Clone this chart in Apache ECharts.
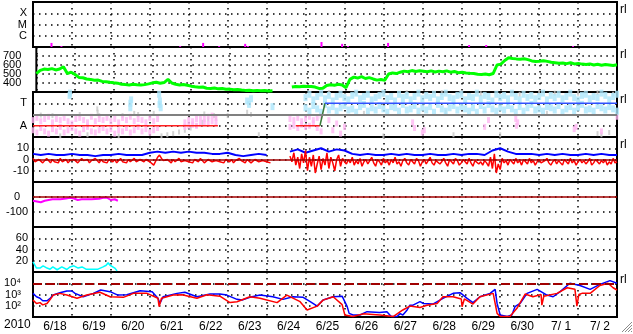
<!DOCTYPE html>
<html><head><meta charset="utf-8">
<script src="https://cdn.jsdelivr.net/npm/echarts@6/dist/echarts.min.js"></script>
<style>html,body{margin:0;padding:0;background:#fff;overflow:hidden}#c{width:633px;height:334px}</style>
</head><body><div id="c"></div>
<script>
// ---------------- data ----------------
const dayLabels = ['6/18','6/19','6/20','6/21','6/22','6/23','6/24','6/25','6/26','6/27','6/28','6/29','6/30','7/ 1','7/ 2'];
const yearLabel = '2010';
const xrayLabels = {1:'C', 2:'M', 3:'X'};
const speedLabels = {400:'400', 500:'500', 600:'600', 700:'700'};
const swTypeLabels = {1:'A', 3:'T'};
const imfLabels = {10:'10', 0:'0', '-10':'-10'};
const dstLabels = {0:'0', '-100':'-100'};
const kpLabels = {20:'20', 40:'40', 60:'60'};
const elecLabels = {2:'10\u00B2', 3:'10\u00B3', 4:'10\u2074'};
const sideMark = 'rl';

// X-ray flare events (day since 6/18 00UT, peak flux W/m2)
const flareTimes = [0.475,0.73,3.78,4.37,4.78,5.45,5.52,7.41,7.94,8.09,9.12,11.2,11.64,13.87];
const flareFlux  = [2.3e-7,1.2e-7,1.2e-7,2.3e-7,1.2e-7,1.9e-7,1.2e-7,2.8e-7,1.9e-7,1.2e-7,2.3e-7,1.5e-7,1.5e-7,1.2e-7];

// Solar wind speed, sampled every 0.1 day
const speedStart1 = 0.0;
const speed1 = [505,540,555,550,560,545,555,580,505,520,495,462,458,445,440,430,432,418,415,408,
  402,398,385,382,378,385,380,378,382,390,402,408,398,405,440,400,385,378,383,375,
  365,358,352,355,342,338,345,335,338,330,332,325,328,322,318,320,315,318,314,316,312,314];
const speedStart2 = 6.6;
const speed2 = [355,362,358,365,360,362,355,340,342,372,380,375,385,378,348,440,465,455,470,450,
  460,445,432,438,430,500,512,505,520,532,525,538,528,535,530,525,535,522,532,525,
  535,520,528,515,520,512,508,505,498,495,500,492,505,600,610,650,680,672,668,665,
  670,660,645,640,642,648,640,630,625,620,622,615,625,612,618,610,605,612,600,608,
  598,605,600,595,602];

// Solar wind type panel (T / A)
const tBandStart = 7.0;
const tBandHi = [3.5,3.8,3.3,3.6,3.9,3.4,3.7,3.2,3.6,3.8,3.5,3.3,3.7,3.9,3.4,3.6,3.8,3.3,3.5,3.7,
  3.9,3.4,3.6,3.2,3.8,3.5,3.7,3.3,3.6,3.9,3.4,3.7,3.5,3.8,3.3,3.6,3.9,3.5,3.4,3.7,
  3.8,3.3,3.6,3.5,3.9,3.4,3.7,3.6,3.2,3.8,3.5,3.7,3.4,3.9,3.6,3.3,3.8,3.5,3.7,3.4,
  3.6,3.9,3.3,3.7,3.5,3.8,3.4,3.6,3.9,3.5,3.3,3.7,3.8,3.4,3.6,3.5,3.9,3.7,3.3,3.6,3.8];
const tBandLo = [2.6,2.3,2.8,2.5,2.2,2.9,2.4,2.7,2.3,2.6,2.8,2.4,2.5,2.2,2.7,2.9,2.3,2.6,2.4,2.8,
  2.5,2.2,2.7,2.6,2.3,2.9,2.4,2.5,2.8,2.3,2.6,2.4,2.7,2.2,2.9,2.5,2.3,2.6,2.8,2.4,
  2.7,2.5,2.3,2.6,2.2,2.8,2.4,2.9,2.5,2.3,2.6,2.4,2.8,2.5,2.2,2.7,2.3,2.6,2.9,2.4,
  2.5,2.3,2.7,2.6,2.4,2.8,2.2,2.5,2.7,2.3,2.6,2.9,2.4,2.5,2.3,2.8,2.6,2.4,2.7,2.5,2.3];
const tEarly = [[0.94,3.7],[0.95,3.9],[2.5,3.0],[2.5,2.6],[2.52,3.3],[3.24,3.8],[3.26,3.2],[3.28,2.6],[3.25,2.9],[5.5,3.2],[5.55,2.9],[5.6,3.4],[6.15,2.7]];
const aStart1 = 0.0;
const aHi1 = [1.5,1.7,1.4,1.6,1.8,1.3,1.6,1.5,1.7,1.4,1.2,1.6,1.7,1.5,1.3,1.8,1.4,1.6,1.5,1.7,1.4,1.6,1.3,1.7,1.5,1.8,1.4,1.6,1.5,1.3,1.7,1.4,1.6];
const aLo1 = [0.6,0.4,0.8,0.5,0.3,0.7,0.5,0.9,0.4,0.6,0.8,0.5,0.3,0.7,0.9,0.5,0.4,0.6,0.8,0.5,0.7,0.3,0.6,0.5,0.8,0.4,0.6,0.9,0.5,0.7,0.4,0.6,0.8];
const aStart2 = 3.9;
const aHi2 = [1.3,1.5,1.4,1.6,1.7,1.6,1.8,1.9,1.7];
const aLo2 = [0.9,1.0,1.1,1.0,1.2,1.3,1.2,1.4,1.3];
const aStart3 = 6.6;
const aHi3 = [1.6,1.5,1.7,1.4,1.6,1.8,1.5,1.7,1.9];
const aLo3 = [0.9,1.0,0.8,1.1,0.9,1.0,1.2,0.8,0.5];
const aSparse = [[7.6,1.5],[7.7,0.6],[7.8,1.2],[7.9,0.3],[8.0,0.9],[9.75,1.3],[9.8,0.8],[10.0,0.4],[10.05,0.6],[11.6,0.9],[11.7,1.5],[12.4,1.6],[12.42,1.0],[12.45,1.3],[13.9,0.7],[13.95,0.9],[14.6,0.5],[15,1.8]];
const grayPts = [[3.3,0.1],[3.45,0.2],[3.6,0.3],[3.75,0.45],[3.9,0.6],[4.05,0.8],[4.2,1.0],[4.35,1.3],[4.5,1.6],[4.65,1.9],[4.7,1.7],
  [1.65,2.5],[1.66,2.2],[1.7,1.9],[5.5,2.2],[5.6,2.0],[5.0,1.9],[0.5,1.9],[2.6,2.1],[2.7,2.0],[0.2,1.95],[1.2,2.0],[2.3,1.9],[3.1,2.1],[4.4,2.05],
  [0.7,0.1],[1.4,0.2],[2.2,0.1],[5.8,0.2],
  [7.6,3.95],[8.3,3.9],[9.0,3.8],[9.6,3.95],[10.5,3.95],[11.0,3.9],[11.5,3.85],[12.5,3.8],[13.0,3.95],[13.4,3.9],[14.0,3.9],[14.5,3.95],[14.9,3.8],
  [14.5,0.3],[14.6,0.2],[14.8,0.4],[12.0,0.2],[9.0,0.1],[10.8,0.2],[8.5,2.1],[10.6,2.2],[13.2,2.1]];
const typeA1 = [[0,1],[4.75,1]];
const typeA2 = [[6.75,1],[7.37,1]];
const typeShift = [[7.37,1],[7.5,3]];
const typeT = [[7.5,3],[15,3]];
const typeBoundary = 2;

// IMF Bt (every 0.2 day) and Bz (every 0.05 day), nT
const btStart1 = 0.0;
const bt1 = [5,4,5,4,4,5,4,4,3,4,4,5,4,4,4,6,7,6,7,6,7,6,6,5,5,6,4,3,4,5,4];
const btStart2 = 6.6;
const bt2 = [7,9,6,8,10,7,9,8, 5,4,5,4,4,5,4,5,4,4,5,4,4,5,4,5,5,4,8, 10,7,5,5, 5,4,5,4,5,4,4,5,4,5,4,4];
const bzStart1 = 0.0;
const bz1 = [1,-2,-3,0,-1,-3,-2,1,-1,-3, 0,-2,-1,-3,1,-2,-1,0,-3,-1, -2,0,-1,-3,-2,1,-1,-2,0,-3,
  -1,-2,1,-1,-3,0,-2,-1,-3,0, -1,-2,0,-3,-1,1,-2,-1,-3,0, -2,-1,1,-2,-3,0,-1,-2,0,-1,
  -2,-3,-5,-4,2,4,1,-1,-2,0, -1,-3,0,-2,-1,1,-2,-3,-1,0, -2,-1,-3,0,-1,-2,1,-1,-3,-2,
  0,-1,-2,-3,-1,0,-2,-1,-3,0, -1,-2,0,-3,-1,-2,1,-1,-2,-3, 0,-1,-3,-2,0,-1,-2,-3,-1,0, -2,-1,-3];
const bzStart2 = 6.6;
const bz2 = [3,-2,6,-5,2,-8,5,-3,8,-10, 2,-6,4,-12,-4,3,-9,1,-5,6, -8,2,-3,-10,0,4,-6,1,-2,-4,
  0,-3,2,-5,-1,-4,1,-6,-2,0, -4,-1,2,-3,-6,0,-2,-5,1,-3, -1,-5,0,-3,2,-4,-2,-6,-1,1,
  -3,-5,0,-2,-4,1,-1,-6,-2,0, -4,-1,2,-3,-5,-1,0,-4,-2,1, -3,-6,0,-2,-4,1,-1,-5,-3,0,
  -2,-4,1,-3,-6,-1,0,-4,-2,-5, -1,-3,-6,2,-8,5,-12,-4,-9,1, -3,-1,-5,0,-2,-4,1,-3,-1,-5,
  0,-2,-4,1,-3,-1,-5,-2,0,-3, -4,-1,1,-3,-5,-2,0,-4,-1,-3, -5,0,-2,-4,1,-3,-1,-5,-2,0,
  -3,-1,-4,-2,1,-5,-3,0,-2,-4, -1,-3,0,-5,-2,-4,1,-3,-2];

// Dst (nT)
const dst = [[0,-25],[0.1,-30],[0.2,-35],[0.3,-25],[0.4,-20],[0.5,-15],[0.7,-15],[0.85,-10],[0.95,-5],[1.05,-10],[1.15,-20],[1.25,-15],[1.5,-15],[1.7,-12],[1.8,-5],[1.9,-5],[2.0,-20],[2.1,-15],[2.18,-25]];

// sixth panel (cyan)
const kp = [[0,18],[0.09,7],[0.18,7],[0.26,11],[0.31,14],[0.36,7],[0.44,5],[0.51,9],[0.62,4],[0.74,9],[0.87,4.5],[0.95,9],[1.05,11],[1.16,7],[1.26,9],[1.36,5],[1.5,5],[1.67,5],[1.8,9],[1.88,12],[1.93,16.5],[1.98,12],[2.03,14],[2.1,7],[2.16,2]];

// electron flux (two channels)
const elecBlue = [[0,1260],[0.09,630],[0.18,460],[0.25,280],[0.36,280],[0.44,460],[0.52,890],[0.69,1450],[0.87,2040],[1.0,2040],[1.08,1260],[1.29,630],[1.55,1260],[1.74,2510],[1.98,1780],[2.18,890],[2.41,950],[2.75,2190],[3.06,1780],[3.21,460],[3.26,160],[3.34,630],[3.7,1260],[3.9,1580],[4.21,630],[4.55,1120],[4.8,1100],[4.98,890],[5.24,370],[5.37,320],[5.57,560],[5.83,890],[6.16,630],[6.42,370],[6.68,630],[6.94,560],[7.12,230],[7.3,93],[7.45,320],[7.71,630],[7.94,710],[8.07,83],[8.12,21],[8.22,15],[8.4,15],[8.58,30],[8.9,25],[9.09,30],[9.2,11],[9.35,11],[9.43,20],[9.5,15],[9.61,42],[9.68,112],[9.76,112],[9.94,230],[10.02,160],[10.27,141],[10.53,460],[10.79,1260],[10.97,1450],[11.15,460],[11.3,190],[11.48,630],[11.74,1260],[11.87,2880],[11.92,160],[12.0,15],[12.18,11],[12.3,15],[12.38,83],[12.51,160],[12.69,1260],[12.95,2880],[13.2,890],[13.36,630],[13.54,1780],[13.79,10000],[14.05,6310],[14.31,2880],[14.56,7940],[14.82,17000],[15,10000]];
const elecRed = [[0,316],[0.09,158],[0.18,190],[0.25,120],[0.3,158],[0.36,158],[0.44,355],[0.52,890],[0.69,1260],[0.87,890],[1.13,460],[1.38,890],[1.72,1580],[1.98,630],[2.32,560],[2.58,1260],[2.93,1260],[3.21,460],[3.24,83],[3.3,460],[3.6,890],[3.83,955],[4.21,460],[4.47,955],[4.8,710],[5.06,190],[5.24,229],[5.57,630],[5.83,460],[6.27,190],[6.52,890],[6.86,229],[7.04,42],[7.3,93],[7.45,316],[7.71,630],[7.94,126],[8.01,15],[8.22,11],[8.48,19],[8.91,15],[9.25,11],[9.5,42],[9.68,93],[9.94,71],[10.12,112],[10.38,160],[10.53,631],[10.79,631],[11.0,400],[11.02,83],[11.08,400],[11.3,140],[11.48,630],[11.82,1260],[11.92,21],[12.0,11],[12.25,11],[12.43,59],[12.64,1100],[12.84,630],[13.05,1000],[13.07,112],[13.12,700],[13.46,1260],[13.72,3980],[13.92,2880],[13.97,93],[14.02,1000],[14.1,1260],[14.31,1260],[14.56,6310],[14.77,10000],[14.9,3980],[15,2510]];
const elecThreshold = 10000;

// ---------------- chart ----------------
const seg = (t0, dt, vals) => vals.map((v, i) => [Math.round((t0 + i * dt) * 1000) / 1000, v]);
const FONT = 'Liberation Sans';
const tops = [2, 47, 92, 137, 182, 227, 272];
const dotted = {show: true, lineStyle: {color: '#000', width: 1.5, type: [1.5, 4.5]}};
const grids = tops.map(t => ({left: 33, top: t, width: 584, height: 45, show: true, borderColor: '#000', borderWidth: 2, backgroundColor: 'rgba(0,0,0,0)'}));
const xAxes = tops.map((t, i) => ({type: 'value', gridIndex: i, min: 0, max: 15, interval: 1,
  axisLine: {show: false}, axisTick: {show: false}, axisLabel: {show: false}, splitLine: dotted}));
xAxes.push({type: 'category', gridIndex: 6, data: dayLabels, boundaryGap: true, position: 'bottom',
  axisLine: {show: false}, axisTick: {show: false}, splitLine: {show: false},
  axisLabel: {fontFamily: FONT, fontSize: 12, color: '#000', margin: 4, padding: [0, 0, 0, 5], interval: 0}});
const lab = (map, margin, align) => ({fontFamily: FONT, fontSize: 11, color: '#000', margin: margin, align: align || 'right',
  formatter: v => { const k = Math.round(v); return map[k] !== undefined ? map[k] : ''; }});
const yBase = (i, o) => Object.assign({gridIndex: i, type: 'value', axisLine: {show: false}, axisTick: {show: false}, splitLine: dotted}, o);
const yAxes = [
  yBase(0, {min: 0, max: 4, interval: 1, axisLabel: lab(xrayLabels, 6)}),
  yBase(1, {min: 300, max: 800, interval: 100, axisLabel: lab(speedLabels, 15)}),
  yBase(2, {min: 0, max: 4, interval: 1, axisLabel: lab(swTypeLabels, 6)}),
  yBase(3, {min: -20, max: 20, interval: 10, axisLabel: lab(imfLabels, 4)}),
  yBase(4, {min: -200, max: 100, interval: 100, axisLabel: lab(dstLabels, 16, 'center')}),
  yBase(5, {min: 0, max: 80, interval: 20, axisLabel: lab(kpLabels, 5)}),
  yBase(6, {type: 'log', logBase: 10, min: 10, max: 100000,
    axisLabel: {fontFamily: FONT, fontSize: 11, color: '#000', margin: 12, align: 'right',
      formatter: v => { const k = Math.round(Math.log10(v)); return elecLabels[k] || ''; }}})
];
const line = (gi, data, color, width, extra) => Object.assign({type: 'line', xAxisIndex: gi, yAxisIndex: gi, data: data,
  showSymbol: false, symbol: 'none', silent: true, animation: false, lineStyle: {color: color, width: width}, itemStyle: {color: color}}, extra || {});
const scatter = (gi, data, color, size) => ({type: 'scatter', xAxisIndex: gi, yAxisIndex: gi, data: data, symbol: 'rect', clip: true,
  symbolSize: size, silent: true, animation: false, itemStyle: {color: color}});
const hline = (gi, v, color, width, type) => ({type: 'line', xAxisIndex: gi, yAxisIndex: gi, data: [], silent: true,
  markLine: {silent: true, symbol: 'none', animation: false, label: {show: false}, lineStyle: {color: color, width: width, type: type || 'solid'}, data: [{yAxis: v}]}});

const series = [
  {type: 'bar', xAxisIndex: 0, yAxisIndex: 0, barWidth: 2, silent: true, animation: false, itemStyle: {color: '#ff00ff'},
    data: flareTimes.map((t, i) => [t, Math.log10(flareFlux[i]) + 7])},
  line(1, seg(speedStart1, 0.1, speed1), '#00ff00', 3),
  line(1, seg(speedStart2, 0.1, speed2), '#00ff00', 3),
  scatter(2, grayPts, '#c8c8c8', [2, 5]),
  scatter(2, seg(aStart1, 0.1, aHi1).concat(seg(aStart1, 0.1, aLo1), seg(aStart2, 0.1, aHi2), seg(aStart2, 0.1, aLo2),
    seg(aStart3, 0.1, aHi3), seg(aStart3, 0.1, aLo3), aSparse), '#ffb6f2', [3, 6]),
  scatter(2, seg(tBandStart, 0.1, tBandHi).concat(seg(tBandStart, 0.1, tBandLo), tEarly), '#ade6fb', [4, 7]),
  hline(2, typeBoundary, '#808080', 2),
  line(2, typeA1, '#ff2020', 1.5),
  line(2, typeA2, '#ff2020', 1.5),
  line(2, typeShift, '#3a7a3a', 1.5),
  line(2, typeT, '#3050ff', 1.5),
  line(3, seg(btStart1, 0.2, bt1), '#0000ff', 2),
  line(3, seg(btStart2, 0.2, bt2), '#0000ff', 2),
  line(3, seg(bzStart1, 0.05, bz1), '#ff0000', 1.5),
  line(3, seg(bzStart2, 0.05, bz2), '#ff0000', 1.5),
  hline(3, 0, '#a00000', 1.5),
  hline(4, 0, '#a00000', 1.5),
  line(4, dst, '#ff00ff', 2),
  line(5, kp, '#00ffff', 1.5),
  hline(6, elecThreshold, '#a00000', 2, [9, 4]),
  line(6, elecBlue, '#0000ff', 1.5),
  line(6, elecRed, '#ff0000', 1.5)
];

const markTops = [4, 49, 94, 139, 274];
const graphic = [{type: 'text', left: 4, top: 319, style: {text: yearLabel, font: '12px "Liberation Sans"', fill: '#000'}}]
  .concat(markTops.map(t => ({type: 'text', left: 620, top: t, style: {text: sideMark, font: '12px "Liberation Sans"', fill: '#000'}})))
  .concat([0, 3, 6, 9].map(k => ({type: 'line', shape: {x1: 632, y1: 322 + k, x2: 622 + k, y2: 332}, style: {stroke: '#8a8a8a', lineWidth: 1}})));

const chart = echarts.init(document.getElementById('c'), null, {renderer: 'canvas'});
chart.setOption({animation: false, backgroundColor: '#fff', grid: grids, xAxis: xAxes, yAxis: yAxes, series: series, graphic: graphic});
</script></body></html>
